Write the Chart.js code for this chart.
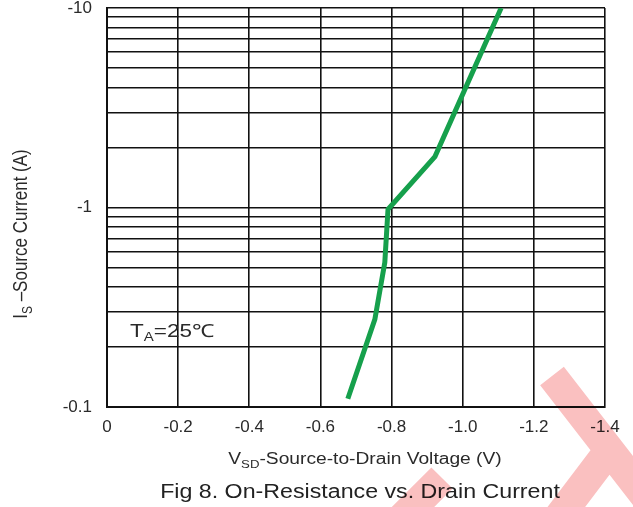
<!DOCTYPE html>
<html>
<head>
<meta charset="utf-8">
<script src="https://cdn.jsdelivr.net/npm/chart.js@4/dist/chart.umd.min.js"></script>
<style>
  html, body { margin: 0; padding: 0; background: #fff; }
  #wrap { width: 633px; height: 507px; }
</style>
</head>
<body>
<div id="wrap"><canvas id="vsdChart" width="633" height="507"></canvas></div>
<script>
// Source-drain diode forward curve, TA = 25C
const vsd = [-0.677, -0.753, -0.781, -0.790, -0.922, -1.108];
const isCurrent = [-0.11, -0.275, -0.53, -0.98, -1.8, -10];

// Axis ticks
const xTickValues = [0, -0.2, -0.4, -0.6, -0.8, -1.0, -1.2, -1.4];
const xTickLabels = ['0', '-0.2', '-0.4', '-0.6', '-0.8', '-1.0', '-1.2', '-1.4'];
const yGridValues = [0.1, 0.2, 0.3, 0.4, 0.5, 0.6, 0.7, 0.8, 0.9,
                     1, 2, 3, 4, 5, 6, 7, 8, 9, 10];
const yTickValues = [0.1, 1, 10];
const yTickLabels = ['-0.1', '-1', '-10'];

const FONT = '"Liberation Sans", Arial, sans-serif';
const INK = '#2a2a2a';
const GRID = '#111';

// log scale needs magnitudes, the sign only lives in the labels
const points = vsd.map((v, i) => ({ x: v, y: Math.abs(isCurrent[i]) }));

// draws a line of text with optional subscript runs, stretched by sx/sy
function drawRich(ctx, parts, x, y, size, opts) {
  const o = Object.assign({ align: 'center', sx: 1, sy: 1, rotate: 0, color: INK }, opts);
  ctx.save();
  ctx.translate(x, y);
  if (o.rotate) ctx.rotate(o.rotate);
  ctx.scale(o.sx, o.sy);
  ctx.fillStyle = o.color;
  ctx.textBaseline = 'middle';
  ctx.textAlign = 'left';
  const fonts = parts.map(p => (p.sub ? Math.round(size * 0.68) : size) + 'px ' + FONT);
  const widths = parts.map((p, i) => { ctx.font = fonts[i]; return ctx.measureText(p.text).width; });
  const total = widths.reduce((a, b) => a + b, 0);
  let cx = o.align === 'center' ? -total / 2 : 0;
  parts.forEach((p, i) => {
    ctx.font = fonts[i];
    ctx.fillText(p.text, cx, p.sub ? size * 0.3 : 0);
    cx += widths[i];
  });
  ctx.restore();
}

const figureText = {
  id: 'figureText',
  afterDraw(chart) {
    const ctx = chart.ctx;
    const area = chart.chartArea;

    drawRich(ctx, [{ text: 'I' }, { text: 'S', sub: true }, { text: ' \u2013Source Current (A)' }],
      22, 234, 17, { rotate: -Math.PI / 2, sy: 1.17 });

    drawRich(ctx, [{ text: 'V' }, { text: 'SD', sub: true }, { text: '-Source-to-Drain Voltage (V)' }],
      365, 460, 16, { sx: 1.2 });

    drawRich(ctx, [{ text: 'Fig 8. On-Resistance vs. Drain Current' }],
      360, 492, 20, { sx: 1.16, color: '#222' });

    drawRich(ctx, [{ text: 'T' }, { text: 'A', sub: true }, { text: '=25\u2103' }],
      area.left + 23, 332, 18, { align: 'left', sx: 1.25 });

    // pink stamp in the lower right corner, one stroke so crossings don't darken
    ctx.save();
    ctx.globalCompositeOperation = 'multiply';
    ctx.strokeStyle = 'rgb(250, 192, 192)';
    ctx.lineCap = 'butt';
    ctx.lineWidth = 30;
    ctx.beginPath();
    ctx.moveTo(552, 376); ctx.lineTo(662, 518);
    ctx.moveTo(558, 518); ctx.lineTo(614, 444);
    ctx.moveTo(402, 518); ctx.lineTo(442, 478);
    ctx.stroke();
    ctx.restore();
  }
};

new Chart(document.getElementById('vsdChart'), {
  type: 'scatter',
  data: {
    datasets: [{
      data: points,
      showLine: true,
      borderColor: '#16a04c',
      borderWidth: 5,
      pointRadius: 0,
      tension: 0
    }]
  },
  options: {
    responsive: false,
    animation: false,
    devicePixelRatio: 1,
    layout: { padding: { top: 8, right: 28, left: 0, bottom: 0 } },
    plugins: {
      legend: { display: false },
      tooltip: { enabled: false }
    },
    scales: {
      x: {
        type: 'linear',
        min: -1.4,
        max: 0,
        reverse: true,
        afterBuildTicks(scale) {
          scale.ticks = xTickValues.map(v => ({ value: v }));
        },
        afterFit(scale) { scale.height = 100; },
        grid: { color: GRID, lineWidth: 1.6, drawTicks: false },
        border: { color: GRID, width: 2 },
        ticks: {
          autoSkip: false,
          maxRotation: 0,
          padding: 10,
          color: INK,
          font: { family: FONT, size: 17 },
          callback: (v, i) => xTickLabels[i]
        }
      },
      y: {
        type: 'logarithmic',
        min: 0.1,
        max: 10,
        afterBuildTicks(scale) {
          scale.ticks = yGridValues.map(v => ({ value: v }));
        },
        afterFit(scale) { scale.width = 107; },
        // invisible tick marks keep the labels off the axis without padding the top
        grid: { color: GRID, lineWidth: 1.6, drawTicks: true, tickLength: 15, tickColor: 'rgba(0,0,0,0)' },
        border: { color: GRID, width: 2 },
        ticks: {
          autoSkip: false,
          padding: 0,
          color: INK,
          font: { family: FONT, size: 17, lineHeight: 0.9 },
          callback: v => {
            const k = yTickValues.findIndex(t => Math.abs(t - v) < 1e-9);
            return k >= 0 ? yTickLabels[k] : '';
          }
        }
      }
    }
  },
  plugins: [figureText]
});
</script>
</body>
</html>
